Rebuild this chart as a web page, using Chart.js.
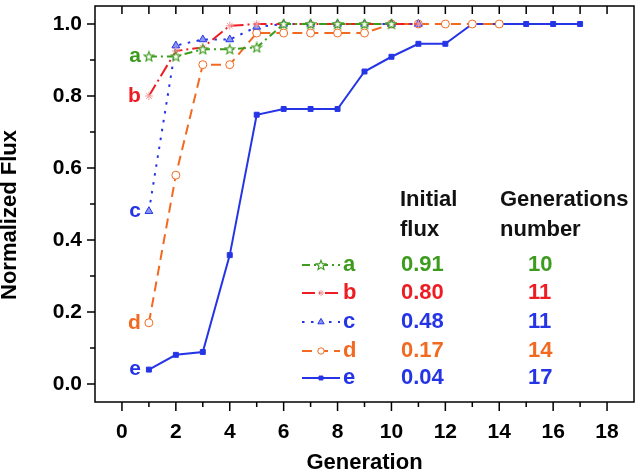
<!DOCTYPE html>
<html>
<head>
<meta charset="utf-8">
<script src="https://cdn.jsdelivr.net/npm/chart.js@4.4.0/dist/chart.umd.min.js"></script>
<style>
  html, body { margin: 0; padding: 0; background: #fff; }
  #wrap { width: 640px; height: 474px; }
</style>
</head>
<body>
<div id="wrap"><canvas id="chart" width="640" height="474"></canvas></div>
<script>
// values
const names = ['a', 'b', 'c', 'd', 'e']
const initialFlux = ['0.91', '0.80', '0.48', '0.17', '0.04']
const generationsNumber = ['10', '11', '11', '14', '17']
const generations = [1, 2, 3, 4, 5, 6, 7, 8, 9, 10, 11, 12, 13, 14, 15, 16, 17]
const flux_a = [0.91, 0.91, 0.93, 0.93, 0.935, 1, 1, 1, 1, 1]
const flux_b = [0.80, 0.925, 0.935, 0.995, 1, 1, 1, 1, 1, 1, 1]
const flux_c = [0.48, 0.94, 0.957, 0.957, 0.992, 1, 1, 1, 1, 1, 1]
const flux_d = [0.17, 0.58, 0.887, 0.887, 0.975, 0.975, 0.975, 0.975, 0.975, 1, 1, 1, 1, 1]
const flux_e = [0.04, 0.081, 0.089, 0.358, 0.748, 0.764, 0.764, 0.764, 0.868, 0.909, 0.945, 0.945, 1, 1, 1, 1, 1]

// tick labels
const generationTicks = [0, 2, 4, 6, 8, 10, 12, 14, 16, 18]
const generationMinor = [1, 3, 5, 7, 9, 11, 13, 15, 17]
const fluxTicks = [0, 0.2, 0.4, 0.6, 0.8, 1.0]
const fluxMinor = [0.1, 0.3, 0.5, 0.7, 0.9]

const GREEN = '#3d9b1d'
const RED = '#ee1d24'
const BLUE = '#2535e6'
const ORANGE = '#f26a21'
const FONT = "'Liberation Sans', Arial, sans-serif"

function starImage(color) {
    const c = document.createElement('canvas')
    c.width = 12
    c.height = 12
    const g = c.getContext('2d')
    g.beginPath()
    for (let i = 0; i < 10; i++) {
        const r = i % 2 ? 2.2 : 5
        const a = -Math.PI / 2 + i * Math.PI / 5
        g.lineTo(6 + r * Math.cos(a), 6.4 + r * Math.sin(a))
    }
    g.closePath()
    g.fillStyle = '#fff'
    g.fill()
    g.strokeStyle = color
    g.lineWidth = 1.2
    g.stroke()
    return c
}

const series = [
    {flux: flux_a, color: GREEN, dash: [8, 4, 2, 4], style: starImage(GREEN), radius: 5, fill: '#fff', edge: GREEN},
    {flux: flux_b, color: RED, dash: [13, 4, 2, 4], style: 'star', radius: 4, fill: '#f59a9a', edge: '#f59a9a'},
    {flux: flux_c, color: BLUE, dash: [2.5, 6.5], style: 'triangle', radius: 4.5, fill: '#8a96f2', edge: BLUE},
    {flux: flux_d, color: ORANGE, dash: [10, 6], style: 'circle', radius: 4, fill: '#fff', edge: ORANGE},
    {flux: flux_e, color: BLUE, dash: [], style: 'rect', radius: 3.5, fill: BLUE, edge: BLUE}
]

const datasets = series.map((s, k) => ({
    label: names[k],
    data: s.flux.map((v, i) => ({x: generations[i], y: v})),
    borderColor: s.color,
    borderWidth: 2,
    borderDash: s.dash,
    pointStyle: s.style,
    pointRadius: s.radius,
    pointBackgroundColor: s.fill,
    pointBorderColor: s.edge,
    pointBorderWidth: 1,
    tension: 0
}))

const decor = {
    id: 'decor',
    afterDatasetsDraw(chart) {
        const ctx = chart.ctx
        ctx.save()
        ctx.font = 'bold 21px ' + FONT
        ctx.textAlign = 'right'
        ctx.textBaseline = 'middle'
        chart.data.datasets.forEach((ds, k) => {
            const p = chart.getDatasetMeta(k).data[0]
            ctx.fillStyle = series[k].color
            ctx.fillText(names[k], p.x - 8, p.y)
        })
        ctx.restore()
    },
    afterDraw(chart) {
        const ctx = chart.ctx
        const {left, right, top, bottom} = chart.chartArea
        const xs = chart.scales.x
        const ys = chart.scales.y
        ctx.save()
        ctx.strokeStyle = '#000'
        ctx.lineWidth = 1.5
        ctx.strokeRect(left, top, right - left, bottom - top)
        ctx.beginPath()
        fluxTicks.forEach(v => { const y = ys.getPixelForValue(v); ctx.moveTo(left - 8, y); ctx.lineTo(left, y) })
        fluxMinor.forEach(v => { const y = ys.getPixelForValue(v); ctx.moveTo(left - 5, y); ctx.lineTo(left, y) })
        generationTicks.forEach(v => { const x = xs.getPixelForValue(v); ctx.moveTo(x, bottom); ctx.lineTo(x, bottom + 9) })
        generationMinor.forEach(v => { const x = xs.getPixelForValue(v); ctx.moveTo(x, bottom); ctx.lineTo(x, bottom + 5) })
        generationTicks.concat(generationMinor).forEach(v => { const x = xs.getPixelForValue(v); ctx.moveTo(x, top); ctx.lineTo(x, top + 8) })
        ctx.stroke()

        // y title
        ctx.fillStyle = '#000'
        ctx.font = 'bold 22px ' + FONT
        ctx.textAlign = 'center'
        ctx.textBaseline = 'middle'
        ctx.translate(10, 215)
        ctx.rotate(-Math.PI / 2)
        ctx.fillText('Normalized Flux', 0, 0)
        ctx.restore()

        // legend table
        ctx.save()
        ctx.font = 'bold 22px ' + FONT
        ctx.textBaseline = 'middle'
        ctx.textAlign = 'left'
        ctx.fillStyle = '#111'
        ctx.fillText('Initial', 400, 200)
        ctx.fillText('flux', 400, 230)
        ctx.fillText('Generations', 500, 200)
        ctx.fillText('number', 500, 230)
        const rows = [265, 293, 322, 351, 378]
        series.forEach((s, k) => {
            const y = rows[k]
            ctx.strokeStyle = s.color
            ctx.lineWidth = 2
            ctx.setLineDash(s.dash)
            ctx.beginPath()
            ctx.moveTo(302, y)
            ctx.lineTo(340, y)
            ctx.stroke()
            ctx.setLineDash([])
            ctx.fillStyle = s.fill
            ctx.strokeStyle = s.edge
            ctx.lineWidth = 1
            Chart.helpers.drawPoint(ctx, {pointStyle: s.style, radius: s.radius * 0.8, rotation: 0, borderWidth: 1}, 321, y)
            ctx.fillStyle = s.color
            ctx.fillText(names[k], 343, y)
            ctx.fillText(initialFlux[k], 401, y)
            ctx.fillText(generationsNumber[k], 528, y)
        })
        ctx.restore()
    }
}

new Chart(document.getElementById('chart'), {
    type: 'line',
    data: {datasets: datasets},
    plugins: [decor],
    options: {
        responsive: false,
        animation: false,
        events: [],
        layout: {padding: {top: 1, right: 2, left: 0, bottom: 0}},
        plugins: {legend: {display: false}, tooltip: {enabled: false}},
        scales: {
            x: {
                type: 'linear',
                min: -1,
                max: 19,
                grid: {display: false, drawTicks: false},
                border: {display: false},
                afterBuildTicks: scale => { scale.ticks = generationTicks.map(v => ({value: v})) },
                afterFit: scale => {
                    scale.height = 72
                    scale.paddingLeft = 0
                    scale.paddingRight = 0
                },
                ticks: {
                    padding: 18,
                    color: '#000',
                    font: {family: FONT, size: 21, weight: 'bold'},
                    maxRotation: 0,
                    autoSkip: false,
                    callback: v => String(v)
                },
                title: {
                    display: true,
                    text: 'Generation',
                    color: '#000',
                    font: {family: FONT, size: 22, weight: 'bold', lineHeight: 1},
                    padding: {top: 0, bottom: 0}
                }
            },
            y: {
                min: -0.05,
                max: 1.05,
                grid: {display: false, drawTicks: false},
                border: {display: false},
                afterBuildTicks: scale => { scale.ticks = fluxTicks.map(v => ({value: v})) },
                afterFit: scale => {
                    scale.width = 95
                    scale.paddingTop = 0
                    scale.paddingBottom = 0
                },
                ticks: {
                    padding: 13,
                    color: '#000',
                    font: {family: FONT, size: 21, weight: 'bold'},
                    autoSkip: false,
                    callback: v => v.toFixed(1)
                }
            }
        }
    }
})
</script>
</body>
</html>
